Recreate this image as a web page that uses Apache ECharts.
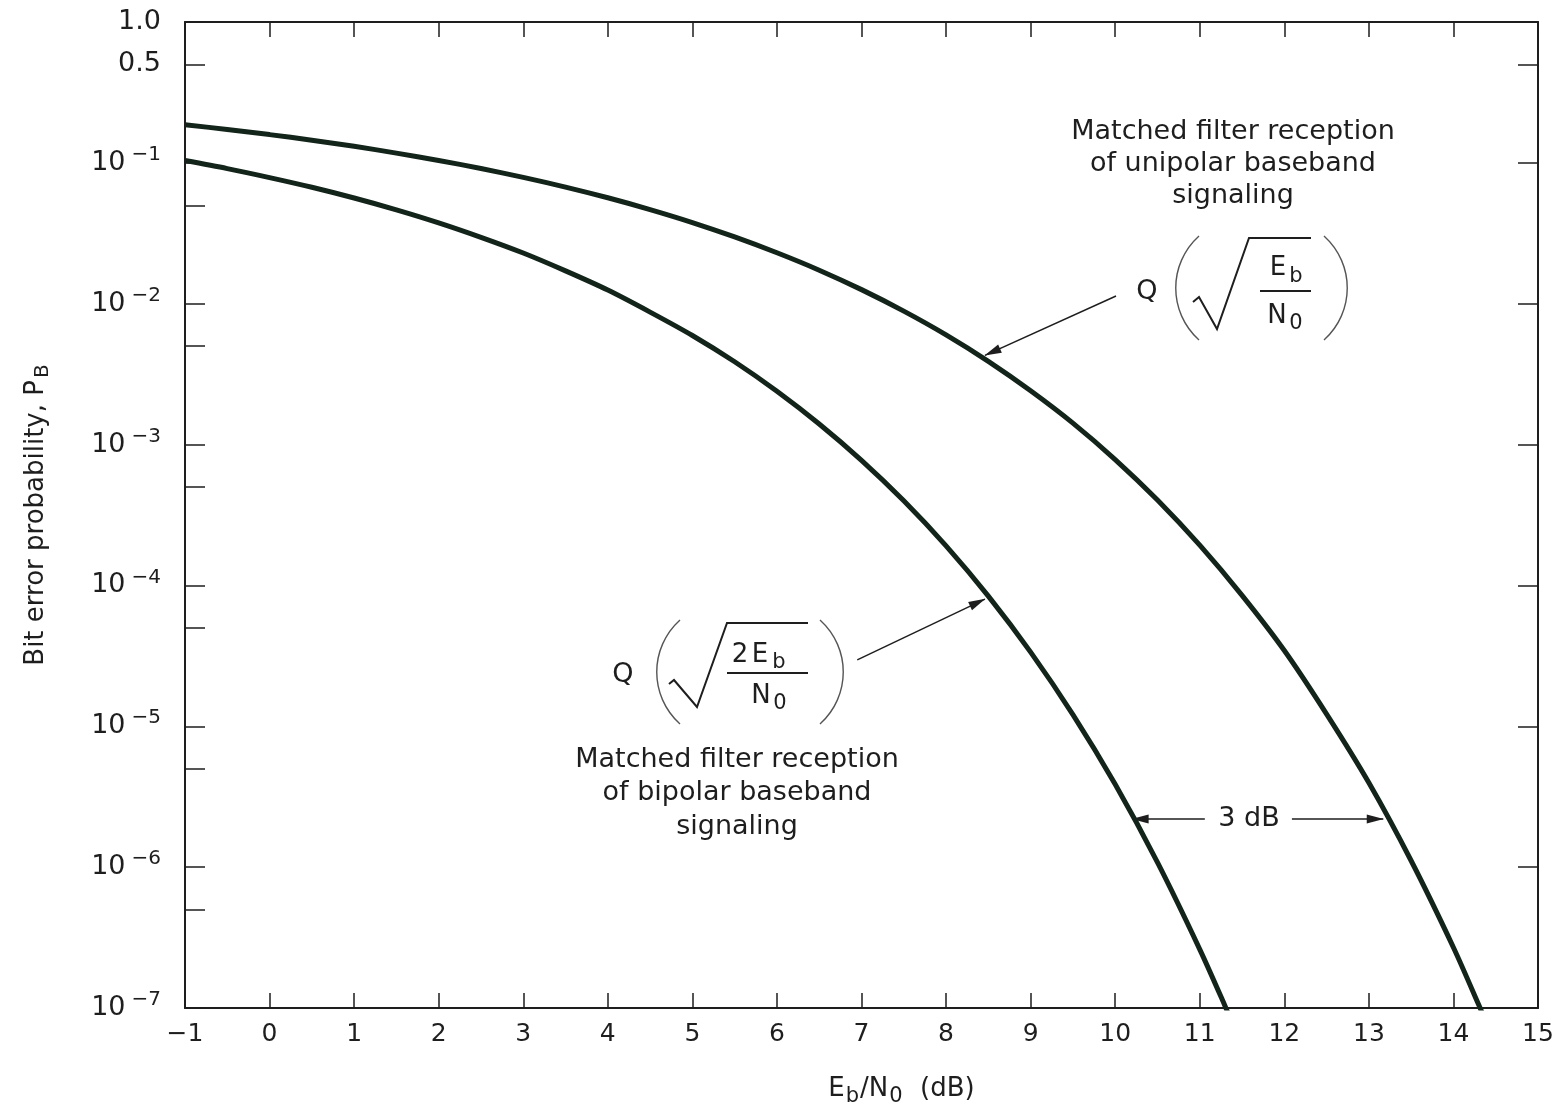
<!DOCTYPE html>
<html>
<head>
<meta charset="utf-8">
<script src="https://cdn.jsdelivr.net/npm/echarts@6/dist/echarts.min.js"></script>
<style>html,body{margin:0;padding:0;background:#fff}#c{width:1568px;height:1113px}</style>
</head>
<body>
<div id="c"></div>
<script>
// ---- data ----
const unipolarX  = [-1,-0.5,0,0.5,1,1.5,2,2.5,3,3.5,4,4.5,5,5.5,6,6.5,7,7.5,8,8.5,9,9.5,10,10.5,11,11.5,12,12.5,13,13.5,14,14.3,14.4];
const unipolarPb = [0.1866,0.1726,0.1587,0.1448,0.1310,0.1173,0.1040,0.0912,0.0789,0.0673,0.0565,0.0466,0.0377,0.0298,0.0230,0.0173,0.01259,0.00886,0.00601,0.00390,0.00241,0.00142,7.83e-4,4.04e-4,1.93e-4,8.5e-5,3.45e-5,1.22e-5,3.97e-6,1.11e-6,2.69e-7,1.05e-7,7.6e-8];
const bipolarX   = [-1,-0.5,0,0.5,1,1.5,2,2.5,3,3.5,4,4.5,5,5.5,6,6.5,7,7.5,8,8.5,9,9.5,10,10.5,11,11.3,11.4];
const bipolarPb  = [0.1038,0.0910,0.0786,0.0671,0.0563,0.0464,0.0375,0.0296,0.0229,0.0171,0.0125,0.00872,0.00595,0.00387,0.00239,0.00140,7.73e-4,3.99e-4,1.91e-4,8.4e-5,3.36e-5,1.21e-5,3.87e-6,1.08e-6,2.61e-7,1.03e-7,7.4e-8];
const yLabelValues     = [1,0.5,1e-1,1e-2,1e-3,1e-4,1e-5,1e-6,1e-7];
const yLeftTickValues  = [1,0.5,1e-1,5e-2,1e-2,5e-3,1e-3,5e-4,1e-4,5e-5,1e-5,5e-6,1e-6,5e-7,1e-7];
const yRightTickValues = [1,0.5,1e-1,1e-2,1e-3,1e-4,1e-5,1e-6,1e-7];
// annotation anchors (data coordinates)
const uniArrow  = [[10.01, 0.01134], [8.46, 4.3e-3]];
const biArrow   = [[6.95, 2.96e-5], [8.46, 8.0e-5]];
const dbLeft    = [[11.06, 2.2e-6], [10.20, 2.2e-6]];
const dbRight   = [[12.09, 2.2e-6], [13.17, 2.2e-6]];

const FONT = 'DejaVu Sans';
const INK = '#1e1e1e';
const CURVE = '#13241b';

const toPairs = (xs, ys) => xs.map((x, i) => [x, ys[i]]);
const arrowLine = (pair) => [
  { coord: pair[0], symbol: 'none' },
  { coord: pair[1], symbol: 'triangle', symbolSize: [9, 17], symbolOffset: [0, 8] }
];

const chart = echarts.init(document.getElementById('c'), null, { renderer: 'canvas' });

const tx = (text, x, y, size, extra) => Object.assign({
  type: 'text', x: x, y: y, silent: true,
  style: { text: text, fontSize: size, fontFamily: FONT, fill: INK, align: 'center', verticalAlign: 'middle' }
}, extra || {});
const paren = (x1, y1, cx, x2, y2) => ({
  type: 'bezierCurve', silent: true,
  shape: { x1: x1, y1: y1, cpx1: cx, cpy1: y1 + (y2 - y1) * 0.27, cpx2: cx, cpy2: y1 + (y2 - y1) * 0.73, x2: x2, y2: y2 },
  style: { stroke: '#555', lineWidth: 1.4, fill: null }
});
const poly = (pts, w) => ({ type: 'polyline', silent: true, shape: { points: pts }, style: { stroke: INK, lineWidth: w, fill: null } });

const frameAxisLine = { show: true, onZero: false, lineStyle: { color: INK, width: 2 } };

const option = {
  animation: false,
  backgroundColor: '#fff',
  grid: { left: 185, right: 30, top: 22, bottom: 105, containLabel: false },
  xAxis: [
    {
      type: 'value', position: 'bottom', min: -1, max: 15, interval: 1,
      axisLine: frameAxisLine,
      axisTick: { show: true, inside: true, length: 15, lineStyle: { color: INK, width: 1.5 } },
      splitLine: { show: false },
      axisLabel: {
        margin: 14, fontSize: 25, fontFamily: FONT, color: INK,
        formatter: v => (v < 0 ? '\u2212' + (-v) : String(v))
      },
      name: '{t|E}{s|b}{t|/N}{s|0}{t|  (dB)}',
      nameLocation: 'middle', nameGap: 64,
      nameTextStyle: {
        padding: [0, 0, 0, 80],
        rich: {
          t: { fontSize: 26, fontFamily: FONT, color: INK },
          s: { fontSize: 21, fontFamily: FONT, color: INK, padding: [14, 1, 0, 1] }
        }
      }
    },
    {
      type: 'value', position: 'top', min: -1, max: 15, interval: 1,
      axisLine: frameAxisLine,
      axisTick: { show: true, inside: true, length: 15, lineStyle: { color: INK, width: 1.5 } },
      axisLabel: { show: false }, splitLine: { show: false }
    }
  ],
  yAxis: [
    {
      type: 'log', logBase: 10, position: 'left', min: 1e-7, max: 1,
      axisLine: frameAxisLine,
      axisTick: { show: true, inside: true, length: 20, customValues: yLeftTickValues, lineStyle: { color: INK, width: 1.5 } },
      minorTick: { show: false },
      splitLine: { show: false },
      axisLabel: {
        customValues: yLabelValues, margin: 24,
        formatter: v => {
          if (Math.abs(v - 1) < 1e-9) return '{n|1.0}';
          if (Math.abs(v - 0.5) < 1e-9) return '{n|0.5}';
          const e = Math.round(Math.log10(v));
          return '{n|10}{s|\u2212' + (-e) + '}';
        },
        rich: {
          n: { fontSize: 27, fontFamily: FONT, color: INK },
          s: { fontSize: 20, fontFamily: FONT, color: INK, padding: [0, 0, 16, 6] }
        }
      },
      name: 'Bit error probability, P{s|B}',
      nameLocation: 'middle', nameGap: 132, nameRotate: 90,
      nameTextStyle: {
        fontSize: 26, fontFamily: FONT, color: INK,
        rich: { s: { fontSize: 20, fontFamily: FONT, color: INK, padding: [14, 0, 0, 2] } }
      }
    },
    {
      type: 'log', logBase: 10, position: 'right', min: 1e-7, max: 1,
      axisLine: frameAxisLine,
      axisTick: { show: true, inside: true, length: 20, customValues: yRightTickValues, lineStyle: { color: INK, width: 1.5 } },
      axisLabel: { show: false }, splitLine: { show: false }, minorTick: { show: false }
    }
  ],
  series: [
    {
      name: 'unipolar', type: 'line', xAxisIndex: 0, yAxisIndex: 0,
      data: toPairs(unipolarX, unipolarPb), showSymbol: false, symbol: 'none', smooth: 0.3,
      lineStyle: { color: CURVE, width: 5 }, clip: true, z: 5,
      markLine: {
        silent: true, animation: false, symbol: ['none', 'triangle'],
        lineStyle: { color: INK, width: 1.5, type: 'solid' }, label: { show: false },
        emphasis: { disabled: true },
        data: [arrowLine(uniArrow)]
      }
    },
    {
      name: 'bipolar', type: 'line', xAxisIndex: 0, yAxisIndex: 0,
      data: toPairs(bipolarX, bipolarPb), showSymbol: false, symbol: 'none', smooth: 0.3,
      lineStyle: { color: CURVE, width: 5 }, clip: true, z: 5,
      markLine: {
        silent: true, animation: false, symbol: ['none', 'triangle'],
        lineStyle: { color: INK, width: 1.5, type: 'solid' }, label: { show: false },
        emphasis: { disabled: true },
        data: [arrowLine(biArrow), arrowLine(dbLeft), arrowLine(dbRight)]
      }
    }
  ],
  graphic: [
    // unipolar caption
    { type: 'text', x: 1233, y: 116, silent: true,
      style: { text: 'Matched filter reception\nof unipolar baseband\nsignaling', fontSize: 27, fontFamily: FONT, fill: INK, align: 'center', verticalAlign: 'top', lineHeight: 32 } },
    tx('Q', 1147, 292, 27),
    paren(1199, 236, 1168, 1199, 340),
    poly([[1193, 302], [1199, 297], [1217, 329], [1249, 238], [1311, 238]], 2),
    tx('E', 1278, 268, 26), tx('b', 1296, 277, 21),
    poly([[1260, 291], [1311, 291]], 2),
    tx('N', 1277, 316, 26), tx('0', 1296, 324, 21),
    paren(1324, 236, 1355, 1324, 340),
    // bipolar formula
    tx('Q', 623, 675, 27),
    paren(680, 620, 649, 680, 724),
    poly([[669, 684], [674, 680], [697, 707], [727, 623], [808, 623]], 2),
    tx('2', 740, 655, 26), tx('E', 760, 655, 26), tx('b', 779, 663, 21),
    poly([[727, 673], [808, 673]], 2),
    tx('N', 761, 696, 26), tx('0', 780, 704, 21),
    paren(820, 620, 851, 820, 724),
    // bipolar caption
    { type: 'text', x: 737, y: 743, silent: true,
      style: { text: 'Matched filter reception\nof bipolar baseband\nsignaling', fontSize: 27, fontFamily: FONT, fill: INK, align: 'center', verticalAlign: 'top', lineHeight: 33.5 } },
    // 3 dB
    { type: 'rect', shape: { x: 1208, y: 806, width: 82, height: 26 }, style: { fill: '#fff' }, silent: true, z: 50 },
    Object.assign(tx('3 dB', 1249, 819, 27), { z: 51 })
  ]
};
chart.setOption(option);
</script>
</body>
</html>
